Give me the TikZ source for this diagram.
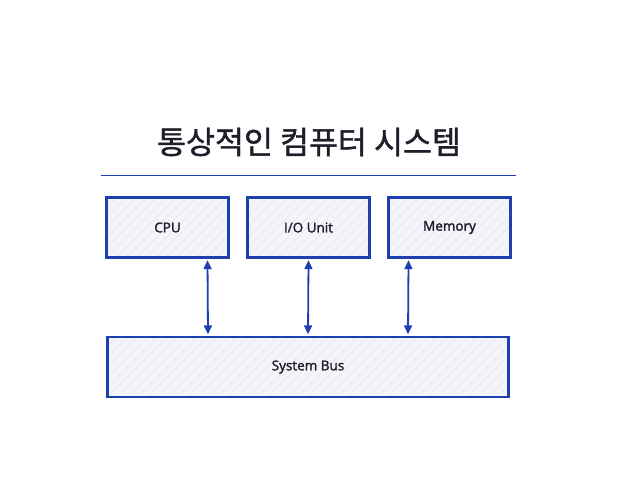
\documentclass[tikz,border=0pt]{standalone}
\usepackage{fontspec}
\setmainfont{Open Sans}
\newfontfamily\kr[FakeBold=1.2]{Noto Sans CJK KR}
\newfontfamily\lbl[FakeBold=1.8]{Open Sans}
\usetikzlibrary{arrows.meta}
\definecolor{edge}{HTML}{1E3FAE}
\definecolor{boxfill}{HTML}{F4F5FB}
\definecolor{hatch}{HTML}{E2E5F0}
\definecolor{ink}{HTML}{1E1E2A}
\tikzset{
  unit/.style={draw=edge, fill=boxfill, line width=2.4pt, minimum width=122pt, minimum height=60pt, inner sep=0pt, font=\lbl\fontsize{13.5}{16}\selectfont, text=ink,
    path picture={\foreach \k in {-80,-70,...,410}{\draw[hatch, line width=0.4pt] ([xshift=\k pt]path picture bounding box.south west) -- ++(75pt,75pt);}}},
  link/.style={draw=edge, line width=1.8pt, {Triangle[length=9pt,width=8pt]}-{Triangle[length=9pt,width=8pt]}}
}
\begin{document}
\begin{tikzpicture}[x=1pt,y=-1pt]
\useasboundingbox[fill=white] (0,0) rectangle (617,499);
\node[font=\kr\fontsize{31.5}{34}\selectfont, text=ink] (title) at (309,142) {통상적인 컴퓨터 시스템};
\coordinate (l1) at (101,175);
\coordinate (l2) at (516,175);
\draw[edge, line width=1pt] (l1) -- (l2);
\node[unit] (cpu) at (167.5,227.5) {CPU};
\node[unit] (io) at (308.5,227.5) {I/O Unit};
\node[unit] (mem) at (449.5,227.5) {Memory};
\node[unit, minimum width=401pt] (bus) at (308,367) {System Bus};
\draw[link] ([xshift=40pt,yshift=-1.5pt]cpu.south) -- ([xshift=-100pt,yshift=1.5pt]bus.north);
\draw[link] ([yshift=-1.5pt]io.south) -- ([yshift=1.5pt]bus.north);
\draw[link] ([xshift=-41pt,yshift=-1.5pt]mem.south) -- ([xshift=100pt,yshift=1.5pt]bus.north);
\end{tikzpicture}
\end{document}
